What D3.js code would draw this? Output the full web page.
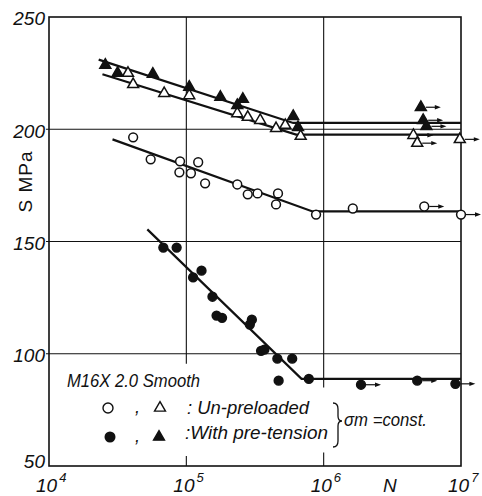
<!DOCTYPE html>
<html>
<head>
<meta charset="utf-8">
<script src="https://cdn.jsdelivr.net/npm/d3@7"></script>
<style>
  body { margin: 0; background: #fff; }
  svg { display: block; font-family: "Liberation Sans", "DejaVu Sans", sans-serif; }
</style>
</head>
<body>
<svg id="chart" width="482" height="496"></svg>
<script>
// data: N cycles, S in MPa
const yTicks = [50, 100, 150, 200, 250];
const xTicks = [1e4, 1e5, 1e6, 1e7];
const yGrid = [100, 150, 200];
// vertical grid lines are broken where the legend sits: [N, gap top S, gap bottom S]
const xGrid = [[1e5, 95.5, 54.5], [1e6, 85, 56]];

// open triangles: un-preloaded
const triOpenN = [3.76e4, 4.1e4, 6.9e4, 1.05e5, 2.35e5, 2.8e5, 3.45e5, 4.5e5, 5.25e5, 6.8e5];
const triOpenS = [225, 220, 216, 215, 207, 205.4, 204, 200.4, 201.8, 196.9];
const triOpenRunN = [4.5e6, 4.8e6, 9.8e6];
const triOpenRunS = [197.3, 193.8, 195.5];

// filled triangles: with pre-tension
const triFillN = [2.57e4, 3.16e4, 5.7e4, 1.05e5, 1.77e5, 2.58e5, 2.35e5, 6.0e5, 6.5e5];
const triFillS = [228.6, 225, 224.6, 218.8, 214.3, 213.4, 210.7, 205.8, 200.9];
const triFillRunN = [5.1e6, 5.3e6, 5.6e6];
const triFillRunS = [209.8, 204, 201.3];

// open circles: un-preloaded
const circOpenN = [4.1e4, 5.5e4, 9.0e4, 8.9e4, 1.08e5, 1.22e5, 1.37e5, 2.35e5, 2.8e5, 3.3e5, 4.65e5, 4.5e5, 8.8e5, 1.63e6];
const circOpenS = [196.4, 186.6, 185.7, 180.8, 180.4, 185.3, 175.9, 175.4, 171, 171.4, 171.4, 166.5, 162, 164.7];
const circOpenRunN = [5.4e6, 1.0e7];
const circOpenRunS = [165.6, 162];

// filled circles: with pre-tension
const circFillN = [6.8e4, 8.5e4, 1.12e5, 1.29e5, 1.55e5, 1.66e5, 1.82e5, 3.0e5, 2.9e5, 3.5e5, 3.7e5, 4.6e5, 5.9e5, 4.7e5, 7.8e5];
const circFillS = [147.3, 147.3, 134, 137, 125.4, 117, 116, 115.2, 113, 101.3, 101.8, 97.8, 97.8, 88, 88.8];
const circFillRunN = [1.87e6, 4.8e6, 9.1e6];
const circFillRunS = [86.2, 88, 86.6];

// fitted S-N lines (knee then horizontal)
const fitTriFillN = [2.3e4, 6.0e5, 1e7];
const fitTriFillS = [231, 202.8, 202.8];
const fitTriOpenN = [2.45e4, 6.3e5, 1e7];
const fitTriOpenS = [224.5, 197.6, 197.6];
const fitCircOpenN = [2.9e4, 8.3e5, 1e7];
const fitCircOpenS = [195.5, 163.4, 163.4];
const fitCircFillN = [5.2e4, 6.9e5, 1e7];
const fitCircFillS = [155.4, 88.8, 88.8];

const svg = d3.select("#chart");
const ink = "#111";

const x = d3.scaleLog().domain([1e4, 1e7]).range([49, 461]);
const y = d3.scaleLinear().domain([50, 250]).range([466, 17]);

// grid
xGrid.forEach(([n, s0, s1]) => {
  svg.append("line").attr("x1", x(n)).attr("x2", x(n))
    .attr("y1", y(250)).attr("y2", y(s0))
    .attr("stroke", ink).attr("stroke-width", 1.1);
  svg.append("line").attr("x1", x(n)).attr("x2", x(n))
    .attr("y1", y(s1)).attr("y2", y(50))
    .attr("stroke", ink).attr("stroke-width", 1.1);
});
svg.selectAll(".hgrid").data(yGrid).enter().append("line")
  .attr("x1", x(1e4) - 3).attr("x2", x(1e7))
  .attr("y1", d => y(d)).attr("y2", d => y(d))
  .attr("stroke", ink).attr("stroke-width", 1.1);

// frame
svg.append("rect")
  .attr("x", x(1e4)).attr("y", y(250))
  .attr("width", x(1e7) - x(1e4)).attr("height", y(50) - y(250))
  .attr("fill", "none").attr("stroke", ink).attr("stroke-width", 1.6);

// y axis labels
const yAxis = svg.append("g")
  .attr("transform", `translate(${x(1e4)},0)`)
  .call(d3.axisLeft(y).tickValues(yTicks).tickSize(0).tickPadding(4));
yAxis.select(".domain").remove();
yAxis.selectAll("text")
  .style("font-size", "19px").style("font-style", "italic")
  .style("font-family", "Liberation Sans, sans-serif").attr("fill", ink)
  .attr("dy", d => d === 50 ? "0.1em" : "0.42em");

// x axis labels with exponents
const xl = svg.append("g");
xTicks.forEach(t => {
  const e = Math.round(Math.log10(t));
  const txt = xl.append("text")
    .attr("x", x(t) - 13).attr("y", 492)
    .style("font-size", "19px").style("font-style", "italic").attr("fill", ink);
  txt.append("tspan").text("10");
  txt.append("tspan").attr("dy", -10).attr("dx", 2).style("font-size", "13px").text(e);
});
svg.append("text").attr("x", 383).attr("y", 492)
  .style("font-size", "19px").style("font-style", "italic").attr("fill", ink).text("N");

svg.append("text")
  .attr("transform", "translate(32,182) rotate(-90)")
  .attr("text-anchor", "middle")
  .style("font-size", "19px").attr("fill", ink)
  .attr("textLength", 61).attr("lengthAdjust", "spacing")
  .text("S  MPa");

// fit lines
const line = d3.line().x(d => x(d[0])).y(d => y(d[1]));
[[fitTriFillN, fitTriFillS], [fitTriOpenN, fitTriOpenS], [fitCircOpenN, fitCircOpenS], [fitCircFillN, fitCircFillS]]
  .forEach(([ns, ss]) => {
    svg.append("path")
      .datum(ns.map((n, i) => [n, ss[i]]))
      .attr("d", line)
      .attr("fill", "none").attr("stroke", ink).attr("stroke-width", 2.2);
  });

// markers
const tri = d3.symbol().type(d3.symbolTriangle).size(52);
function drawTri(ns, ss, filled) {
  svg.append("g").selectAll("path").data(ns.map((n, i) => [n, ss[i]])).enter().append("path")
    .attr("d", tri)
    .attr("transform", d => `translate(${x(d[0])},${y(d[1])})`)
    .attr("fill", filled ? ink : "#fff").attr("stroke", ink).attr("stroke-width", 1.5);
}
function drawCirc(ns, ss, filled) {
  svg.append("g").selectAll("circle").data(ns.map((n, i) => [n, ss[i]])).enter().append("circle")
    .attr("cx", d => x(d[0])).attr("cy", d => y(d[1])).attr("r", 4.4)
    .attr("fill", filled ? ink : "#fff").attr("stroke", ink).attr("stroke-width", 1.5);
}
function drawArrows(ns, ss) {
  svg.append("g").selectAll("g").data(ns.map((n, i) => [n, ss[i]])).enter().append("g")
    .each(function (d) {
      const g = d3.select(this);
      const x0 = x(d[0]) + 5, x1 = x(d[0]) + 20, yy = y(d[1]);
      g.append("line").attr("x1", x0).attr("x2", x1 - 4).attr("y1", yy).attr("y2", yy)
        .attr("stroke", ink).attr("stroke-width", 1.2);
      g.append("path").attr("d", `M${x1},${yy}L${x1 - 6},${yy - 2.2}L${x1 - 6},${yy + 2.2}Z`)
        .attr("fill", ink);
    });
}

drawArrows(triOpenRunN, triOpenRunS);
drawArrows(triFillRunN, triFillRunS);
drawArrows(circOpenRunN, circOpenRunS);
drawArrows(circFillRunN, circFillRunS);

drawTri(triOpenN, triOpenS, false);
drawTri(triOpenRunN, triOpenRunS, false);
drawTri(triFillN, triFillS, true);
drawTri(triFillRunN, triFillRunS, true);
drawCirc(circOpenN, circOpenS, false);
drawCirc(circOpenRunN, circOpenRunS, false);
drawCirc(circFillN, circFillS, true);
drawCirc(circFillRunN, circFillRunS, true);

// legend
const lg = svg.append("g").style("font-style", "italic").attr("fill", ink).style("font-size", "18px");
lg.append("text").attr("x", 67).attr("y", 387).attr("textLength", 133).attr("lengthAdjust", "spacingAndGlyphs")
  .text("M16X 2.0  Smooth");
lg.append("circle").attr("cx", 108).attr("cy", 408).attr("r", 5)
  .attr("fill", "#fff").attr("stroke", ink).attr("stroke-width", 1.4);
lg.append("path").attr("d", tri).attr("transform", "translate(160,408)")
  .attr("fill", "#fff").attr("stroke", ink).attr("stroke-width", 1.4);
lg.append("circle").attr("cx", 110).attr("cy", 437).attr("r", 5.5).attr("fill", ink);
lg.append("path").attr("d", tri).attr("transform", "translate(159,437)")
  .attr("fill", ink).attr("stroke", ink).attr("stroke-width", 1.4);
lg.append("text").attr("x", 135).attr("y", 413).text(",");
lg.append("text").attr("x", 135).attr("y", 442).text(",");
lg.append("text").attr("x", 187).attr("y", 414)
  .attr("textLength", 122).attr("lengthAdjust", "spacingAndGlyphs").text(": Un-preloaded");
lg.append("text").attr("x", 185).attr("y", 439)
  .attr("textLength", 143).attr("lengthAdjust", "spacingAndGlyphs").text(":With pre-tension");
// brace
lg.append("path")
  .attr("d", "M333,403 Q338,403 338,409 L338,416 Q338,421 342,421 Q338,421 338,426 L338,441 Q338,447 333,447")
  .attr("fill", "none").attr("stroke", ink).attr("stroke-width", 1.3);
lg.append("text").attr("x", 344).attr("y", 426)
  .attr("textLength", 83).attr("lengthAdjust", "spacingAndGlyphs").text("σm =const.");
</script>
</body>
</html>
